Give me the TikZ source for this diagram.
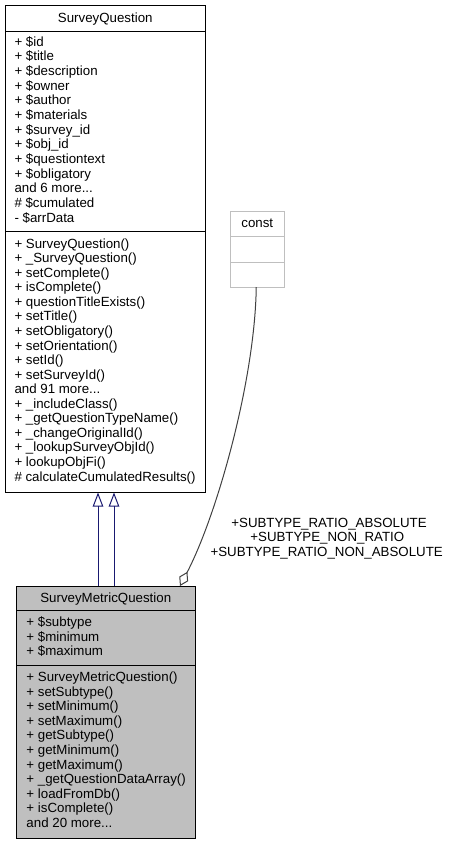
\documentclass[tikz,border=0pt]{standalone}
\usepackage{fontspec}
\setmainfont{Liberation Sans}
\usetikzlibrary{arrows.meta,calc}
\definecolor{inhblue}{HTML}{191970}
\definecolor{aggray}{HTML}{404040}
\definecolor{boxgray}{HTML}{BFBFBF}
\newcommand\mydots{...}
\begin{document}
\begin{tikzpicture}[x=1pt,y=-1pt,
  every node/.style={inner sep=0pt,outer sep=0pt,font=\fontsize{13.3}{14.6}\selectfont},
  classbox/.style={draw=black,line width=1pt,anchor=north west},
  member/.style={anchor=base west},
  title/.style={anchor=base},
  inh/.style={draw=inhblue,line width=1pt,-{Triangle[open,length=14pt,width=10.5pt]}},
  agg/.style={draw=aggray,line width=1pt,{Diamond[open,length=16pt,width=10pt]}-}]
\useasboundingbox (0,0) rectangle (450,844);
% SurveyQuestion
\node[classbox,fill=white,minimum width=200.5pt,minimum height=487.5pt] (sq) at (5,5) {};
\draw[line width=1pt] (5,31.7) -- (205.5,31.7);
\draw[line width=1pt] (5,231.2) -- (205.5,231.2);
\node[title] (sqt) at (105.25,22.7) {SurveyQuestion};
\foreach \t [count=\i from 0] in {{+ \$id},{+ \$title},{+ \$description},{+ \$owner},{+ \$author},{+ \$materials},{+ \$survey\_id},{+ \$obj\_id},{+ \$questiontext},{+ \$obligatory},{and 6 more\mydots},{\# \$cumulated},{- \$arrData}}
  \node[member] (sqa\i) at (14.5,{46.2+14.65*\i}) {\t};
\foreach \t [count=\i from 0] in {{+ SurveyQuestion()},{+ \_SurveyQuestion()},{+ setComplete()},{+ isComplete()},{+ questionTitleExists()},{+ setTitle()},{+ setObligatory()},{+ setOrientation()},{+ setId()},{+ setSurveyId()},{and 91 more\mydots},{+ \_includeClass()},{+ \_getQuestionTypeName()},{+ \_changeOriginalId()},{+ \_lookupSurveyObjId()},{+ lookupObjFi()},{\# calculateCumulatedResults()}}
  \node[member] (sqm\i) at (14.5,{248.2+14.55*\i}) {\t};
% const
\node[classbox,draw=boxgray,fill=white,minimum width=53.5pt,minimum height=75.5pt] (const) at (230.5,211.5) {};
\draw[boxgray,line width=1pt] (230.5,236) -- (284,236);
\draw[boxgray,line width=1pt] (230.5,262) -- (284,262);
\node[title] (constt) at (257.25,227) {const};
% SurveyMetricQuestion
\node[classbox,fill=boxgray,minimum width=178.5pt,minimum height=252pt] (smq) at (16.5,586) {};
\draw[line width=1pt] (16.5,610.7) -- (195,610.7);
\draw[line width=1pt] (16.5,665) -- (195,665);
\node[title] (smqt) at (105.75,602.5) {SurveyMetricQuestion};
\foreach \t [count=\i from 0] in {{+ \$subtype},{+ \$minimum},{+ \$maximum}}
  \node[member] (smqa\i) at (26.5,{626.7+14.6*\i}) {\t};
\foreach \t [count=\i from 0] in {{+ SurveyMetricQuestion()},{+ setSubtype()},{+ setMinimum()},{+ setMaximum()},{+ getSubtype()},{+ getMinimum()},{+ getMaximum()},{+ \_getQuestionDataArray()},{+ loadFromDb()},{+ isComplete()},{and 20 more\mydots}}
  \node[member] (smqm\i) at (26.5,{681.5+14.6*\i}) {\t};
% inheritance
\coordinate (i1) at (98,0);
\coordinate (i2) at (114,0);
\draw[inh] (i1 |- smq.north) -- (i1 |- sq.south);
\draw[inh] (i2 |- smq.north) -- (i2 |- sq.south);
% aggregation
\draw[agg] ($(smq.north east)+(-15,0)$) .. controls (217,515) and (255,380) .. ($(const.south)+(-1,0)$);
\node[title] (lab1) at (329,527) {+SUBTYPE\_RATIO\_ABSOLUTE};
\node[title] (lab2) at (327.3,541.5) {+SUBTYPE\_NON\_RATIO};
\node[title] (lab3) at (326.7,556) {+SUBTYPE\_RATIO\_NON\_ABSOLUTE};
\end{tikzpicture}
\end{document}
